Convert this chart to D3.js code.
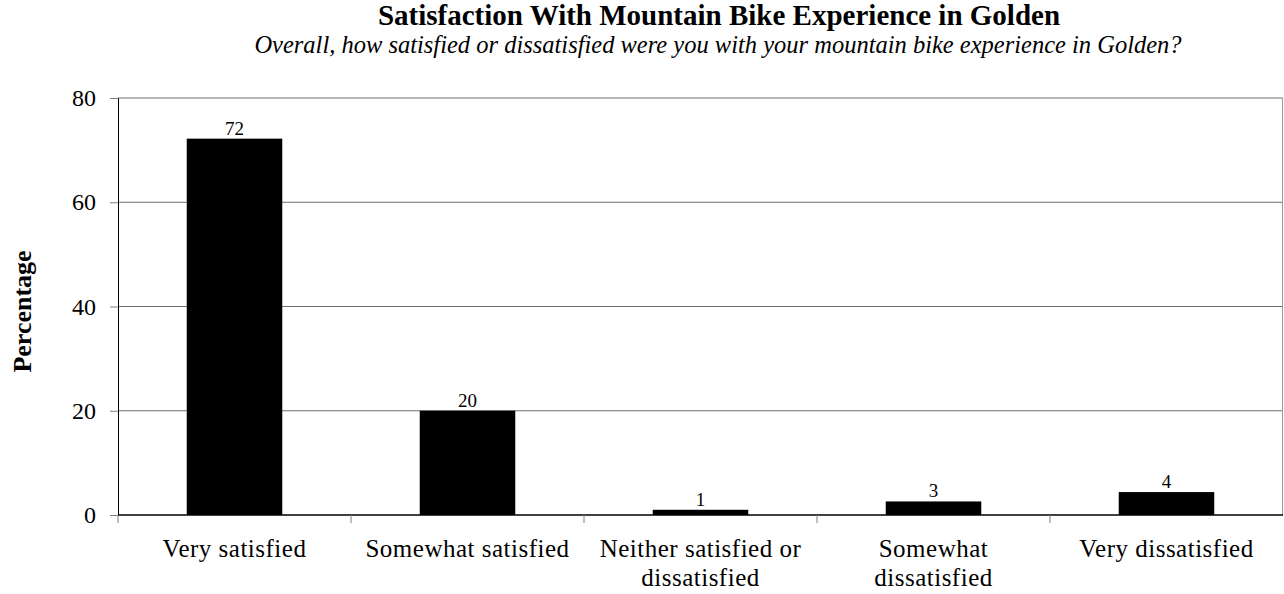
<!DOCTYPE html>
<html lang="en">
<head>
  <meta charset="UTF-8">
  <title>Satisfaction With Mountain Bike Experience in Golden</title>
  <script src="https://d3js.org/d3.v7.min.js"></script>
  <style>
    body { margin: 0; background: #fff; }
    svg text { font-family: "Palatino Linotype", "Book Antiqua", Palatino, "Liberation Serif", serif; fill: #000; }
  </style>
</head>
<body>
  <div id="chart"></div>
  <script>
    // chart data
    const categories = [
      ["Very satisfied"],
      ["Somewhat satisfied"],
      ["Neither satisfied or", "dissatisfied"],
      ["Somewhat", "dissatisfied"],
      ["Very dissatisfied"]
    ];
    const values = [72.2, 20.0, 1.0, 2.6, 4.4];
    const yTicks = [0, 20, 40, 60, 80];

    const W = 1284, H = 594;
    const m = { left: 118, right: 1, top: 98, bottom: 79 };

    const svg = d3.select("#chart").append("svg")
      .attr("width", W).attr("height", H);

    const x = d3.scaleBand()
      .domain(d3.range(categories.length))
      .range([m.left, W - m.right]);
    const y = d3.scaleLinear()
      .domain([0, 80])
      .range([H - m.bottom, m.top]);

    // gridlines
    svg.selectAll(".grid")
      .data(yTicks.filter(d => d > 0))
      .enter().append("line")
      .attr("x1", m.left).attr("x2", W - m.right)
      .attr("y1", d => y(d)).attr("y2", d => y(d))
      .attr("stroke", "#6e6e6e").attr("stroke-width", 1);

    // right border
    svg.append("line")
      .attr("x1", W - m.right - 0.5).attr("x2", W - m.right - 0.5)
      .attr("y1", y(80)).attr("y2", y(0))
      .attr("stroke", "#9a9a9a");

    // y axis
    const yAxis = svg.append("g")
      .attr("transform", `translate(${m.left},0)`)
      .call(d3.axisLeft(y).tickValues(yTicks).tickSize(8).tickPadding(14));
    yAxis.select(".domain").attr("stroke", "#000");
    yAxis.selectAll(".tick line").attr("stroke", "#808080");
    yAxis.selectAll("text").style("font-size", "24px");

    // bars
    const bw = x.bandwidth() * 0.41;
    svg.selectAll(".bar")
      .data(values)
      .enter().append("rect")
      .attr("x", (d, i) => x(i) + (x.bandwidth() - bw) / 2)
      .attr("y", d => y(d))
      .attr("width", bw)
      .attr("height", d => y(0) - y(d))
      .attr("fill", "#000");

    // value labels
    svg.selectAll(".val")
      .data(values)
      .enter().append("text")
      .attr("x", (d, i) => x(i) + x.bandwidth() / 2)
      .attr("y", d => y(d) - 4)
      .attr("text-anchor", "middle")
      .style("font-size", "19px")
      .text(d => Math.round(d));

    // x axis
    svg.append("line")
      .attr("x1", m.left).attr("x2", W - m.right)
      .attr("y1", y(0)).attr("y2", y(0))
      .attr("stroke", "#000").attr("stroke-width", 1.5);
    svg.selectAll(".xtick")
      .data(d3.range(categories.length))
      .enter().append("line")
      .attr("x1", d => x(d)).attr("x2", d => x(d))
      .attr("y1", y(0)).attr("y2", y(0) + 8)
      .attr("stroke", "#808080");

    const lab = svg.selectAll(".cat")
      .data(categories)
      .enter().append("text")
      .attr("text-anchor", "middle")
      .attr("x", (d, i) => x(i) + x.bandwidth() / 2)
      .attr("y", y(0) + 42)
      .style("font-size", "25px")
      .style("letter-spacing", "0.5px");
    lab.selectAll("tspan")
      .data(d => d)
      .enter().append("tspan")
      .attr("x", function () { return this.parentNode.getAttribute("x"); })
      .attr("dy", (d, i) => i === 0 ? 0 : 29)
      .text(d => d);

    // y label
    svg.append("text")
      .attr("transform", `translate(31,${(y(0) + y(80)) / 2 + 5}) rotate(-90)`)
      .attr("text-anchor", "middle")
      .style("font-size", "26px").style("font-weight", "bold")
      .text("Percentage");

    // titles
    svg.append("text")
      .attr("x", 719).attr("y", 25)
      .attr("text-anchor", "middle")
      .style("font-size", "29px").style("font-weight", "bold")
      .text("Satisfaction With Mountain Bike Experience in Golden");
    svg.append("text")
      .attr("x", 718).attr("y", 53)
      .attr("text-anchor", "middle")
      .style("font-size", "24.5px").style("font-style", "italic")
      .text("Overall, how satisfied or dissatisfied were you with your mountain bike experience in Golden?");
  </script>
</body>
</html>
